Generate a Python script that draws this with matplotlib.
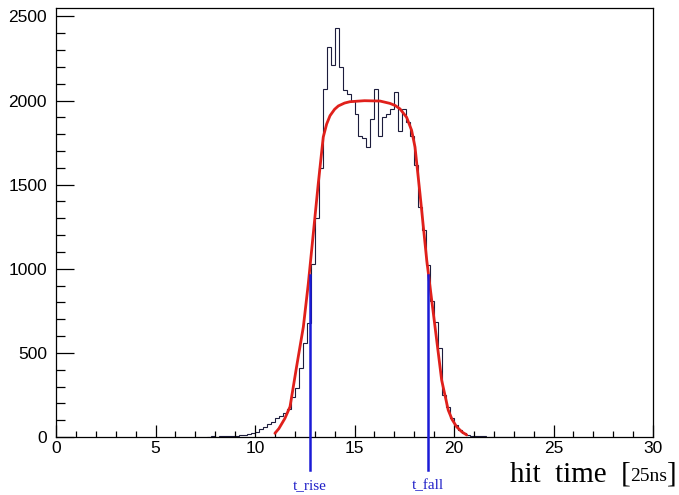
import matplotlib
matplotlib.use("Agg")
import matplotlib.pyplot as plt
import matplotlib.transforms as mtransforms
import numpy as np

# histogram: 0.2-wide bins, counts start at hist_start (zero elsewhere)
bin_width = 0.2
hist_start = 7.6
counts = [
    2, 3, 2, 4, 5, 4, 6, 8, 12, 14,
    20, 24, 32, 45, 58, 75, 90, 115, 125, 140,
    165, 240, 290, 410, 560, 680, 1030, 1300, 1600, 2070,
    2320, 2210, 2430, 2200, 2060, 2040, 2000, 1920, 1790, 1780,
    1725, 1890, 2070, 1790, 1900, 1920, 1950, 2050, 1820, 1950,
    1870, 1790, 1615, 1370, 1230, 1020, 810, 685, 530, 250,
    180, 115, 70, 40, 22, 12, 7, 5, 3, 3,
    2, 2, 1, 1, 1, 1, 1, 1, 1, 1, 1, 1, 1, 1, 1, 1, 1,
]

# fitted curve
fit_x = [11.0, 11.2, 11.5, 11.76, 12.09, 12.43, 12.68, 12.93, 13.18, 13.43,
         13.6, 13.77, 14.0, 14.19, 14.5, 14.77, 15.5, 16.28, 16.78, 17.05,
         17.29, 17.62, 17.87, 18.04, 18.29, 18.63, 18.88, 19.13, 19.38, 19.71,
         19.9, 20.13, 20.4, 20.64]
fit_y = [22, 50, 110, 180, 418, 655, 913, 1210, 1507, 1783,
         1860, 1910, 1948, 1968, 1985, 1993, 1999, 1997, 1983, 1970,
         1950, 1900, 1823, 1724, 1447, 1051, 813, 576, 338, 160,
         105, 61, 30, 12]

t_rise, t_fall = 12.75, 18.7
marker_top = 960

edges = hist_start + bin_width * np.arange(len(counts) + 1)

fig = plt.figure(figsize=(6.79, 4.95), dpi=100)
ax = fig.add_axes([56 / 679, 58 / 495, 597 / 679, 429 / 495])

ax.stairs(counts, edges, color="#1c1c3c", linewidth=0.8, baseline=0)
ax.plot(fit_x, fit_y, color="#e0201b", linewidth=2.0, solid_capstyle="round")

trans = mtransforms.blended_transform_factory(ax.transData, fig.transFigure)
for t, name in [(t_rise, "t_rise"), (t_fall, "t_fall")]:
    ax.plot([t, t], [-195, marker_top], color="#1a1ad6", linewidth=1.8,
            clip_on=False, zorder=5)
    ax.text(t, 1 - 486 / 495, name, transform=trans, ha="center", va="center",
            color="#2020c8", fontsize=11, family="Liberation Serif")

ax.set_xlim(0, 30)
ax.set_ylim(0, 2550)
ax.set_xticks(np.arange(0, 31, 5))
ax.set_xticks(np.arange(0, 31, 1), minor=True)
ax.set_yticks(np.arange(0, 2501, 500))
ax.set_yticks(np.arange(0, 2551, 100), minor=True)

for lab in ax.get_xticklabels() + ax.get_yticklabels():
    lab.set_family("Liberation Sans")
    lab.set_fontsize(12.5)

ax.tick_params(axis="y", which="major", direction="in", length=13, width=0.9, pad=6.5)
ax.tick_params(axis="y", which="minor", direction="in", length=6.5, width=0.9)
ax.tick_params(axis="x", which="major", direction="in", length=8.5, width=0.9, pad=3)
ax.tick_params(axis="x", which="minor", direction="in", length=4.3, width=0.9)
ax.tick_params(top=False, right=False, which="both")
for s in ax.spines.values():
    s.set_linewidth(0.9)

# axis title "hit time [25ns]" built from three pieces
y_lab = 1 - 481 / 495
t3 = fig.text(677 / 679, y_lab, "]", ha="right", va="baseline",
              fontsize=21, family="Liberation Serif")
fig.canvas.draw()
r = fig.canvas.get_renderer()
x2 = t3.get_window_extent(r).x0 / fig.bbox.width
t2 = fig.text(x2, y_lab, "25ns", ha="right", va="baseline",
              fontsize=14, family="Liberation Serif")
x1 = t2.get_window_extent(r).x0 / fig.bbox.width
fig.text(x1, y_lab, "hit  time  [", ha="right", va="baseline",
         fontsize=21, family="Liberation Serif")

fig.savefig("out.png", dpi=100)
